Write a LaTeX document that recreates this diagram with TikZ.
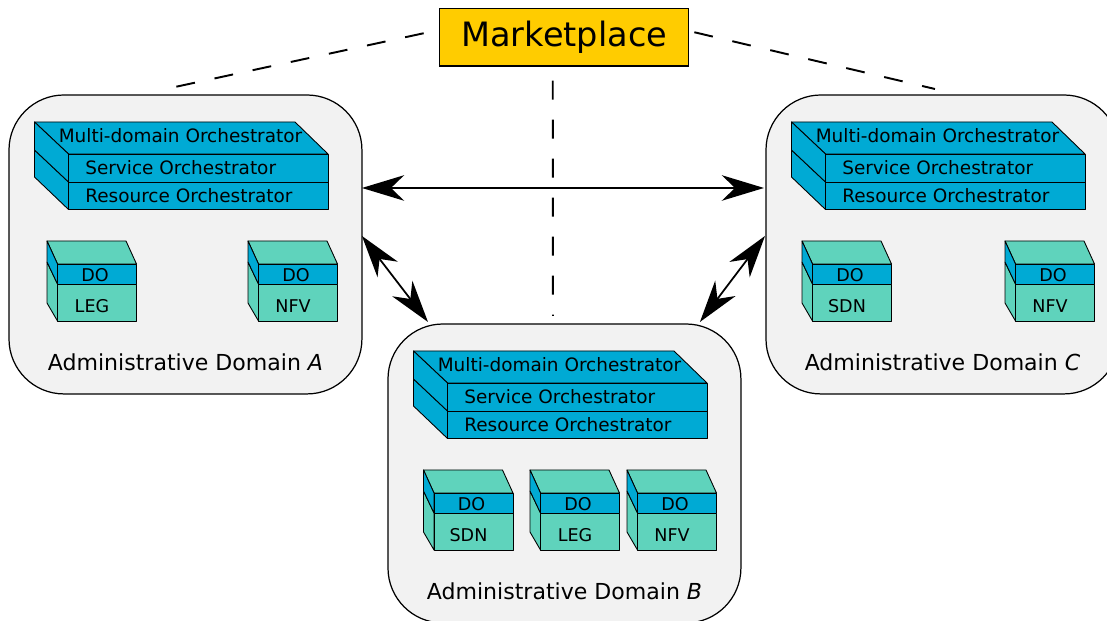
\documentclass[tikz,border=0pt]{standalone}
\usepackage{fontspec}
\setmainfont{DejaVu Sans}
\usetikzlibrary{arrows.meta}

\definecolor{doblue}{HTML}{00AAD4}
\definecolor{doteal}{HTML}{5FD3BC}
\definecolor{mktyellow}{HTML}{FFCC00}
\definecolor{domgray}{HTML}{F2F2F2}

\tikzset{
  domainbox/.style={draw,fill=domgray,line width=0.7pt,rounded corners=1.1cm,minimum width=7.06cm,minimum height=5.98cm,inner sep=0pt,outer sep=0pt,anchor=north west},
  facet/.style={draw,line width=0.5pt,line join=round},
  orchtext/.style={font=\fontsize{10.5}{13}\selectfont,inner sep=0pt,anchor=base west},
  dotext/.style={font=\fontsize{10}{12}\selectfont,inner sep=0pt,anchor=base},
  domtext/.style={font=\fontsize{12.55}{15}\selectfont,inner sep=0pt,anchor=base},
  linkarrow/.style={{Stealth[length=24pt,width=14.5pt,inset=7.5pt]}-{Stealth[length=24pt,width=14.5pt,inset=7.5pt]}},
  dashline/.style={line width=1.1pt,dash pattern=on 10.8pt off 11.4pt}
}

% orchestrator stack, drawn at the origin of a domain
\newcommand{\orchstack}[1]{
  \draw[facet,fill=doblue] (25.5,55) -- (59.5,87) -- (59.5,114.5) -- (25.5,82) -- cycle;
  \draw[facet,fill=doblue] (25.5,27) -- (286,27) -- (319,59) -- (59.5,59) -- cycle;
  \draw[facet,fill=doblue] (25.5,27) -- (59.5,59) -- (59.5,87) -- (25.5,55) -- cycle;
  \draw[facet,fill=doblue] (59.5,59) rectangle (319,87);
  \draw[facet,fill=doblue] (59.5,87) rectangle (319,114.5);
  \node[orchtext,anchor=base] (mdo#1) at (171.5,48) {Multi-domain Orchestrator};
  \node[orchtext] (so#1) at (76,80) {Service Orchestrator};
  \node[orchtext] (ro#1) at (76,108) {Resource Orchestrator};
}

% domain orchestrator box: name, x, y, label
\newcommand{\dobox}[4]{
  \begin{scope}[shift={(#2,#3)}]
    \draw[facet,fill=doteal] (0,0) -- (79,0) -- (89.5,23) -- (10.5,23) -- cycle;
    \draw[facet,fill=doteal] (0,21) -- (10.5,43) -- (10.5,80) -- (0,62) -- cycle;
    \draw[facet,fill=doblue] (0,0) -- (10.5,23) -- (10.5,43) -- (0,21) -- cycle;
    \draw[facet,fill=doblue] (10.5,23) rectangle (89.5,43);
    \draw[facet,fill=doteal] (10.5,43) rectangle (89.5,80);
    \node[dotext] (do#1) at (48,41) {DO};
    \node[dotext] (lab#1) at (45,72) {#4};
  \end{scope}
}

\begin{document}
\begin{tikzpicture}[x=0.02cm,y=-0.02cm]
  \clip (0,0) rectangle (1107,621);

  % domains
  \node[domainbox] (domA) at (9,95) {};
  \node[domainbox] (domB) at (388,324) {};
  \node[domainbox] (domC) at (766,95) {};

  \begin{scope}[shift={(9,95)}]
    \orchstack{A}
    \node[domtext] (nameA) at (176.5,275.5) {Administrative Domain \textit{A}};
  \end{scope}
  \begin{scope}[shift={(388,324)}]
    \orchstack{B}
    \node[domtext] (nameB) at (176.5,275.5) {Administrative Domain \textit{B}};
  \end{scope}
  \begin{scope}[shift={(766,95)}]
    \orchstack{C}
    \node[domtext] (nameC) at (176.5,275.5) {Administrative Domain \textit{C}};
  \end{scope}

  \dobox{al}{47}{241}{LEG}
  \dobox{an}{248}{241}{NFV}
  \dobox{bs}{423.5}{470}{SDN}
  \dobox{bl}{530}{470}{LEG}
  \dobox{bn}{627}{470}{NFV}
  \dobox{cs}{802}{241}{SDN}
  \dobox{cn}{1005}{241}{NFV}

  % marketplace
  \node[draw,fill=mktyellow,line width=0.7pt,minimum width=4.98cm,minimum height=1.15cm,inner sep=0pt,font=\fontsize{19.1}{23}\selectfont] (mkt) at (564.25,37.25) {Marketplace};

  \draw[dashline] ([xshift=-0.31cm,yshift=0.08cm]mkt.west) -- ([xshift=-0.21cm,yshift=0.16cm]domA.north);
  \draw[dashline] ([xshift=0.1cm,yshift=0.1cm]mkt.east) -- ([xshift=-0.15cm,yshift=0.12cm]domC.north);
  \draw[dashline] ([xshift=-0.23cm,yshift=-0.28cm]mkt.south) -- ([xshift=-0.23cm,yshift=0.16cm]domB.north);

  % links between domains
  \draw[linkarrow,line width=1.5pt] ([yshift=1.13cm]domA.east) -- ([xshift=-0.04cm,yshift=1.13cm]domC.west);
  \draw[linkarrow,line width=1pt] ([yshift=0.17cm]domA.east) -- ([xshift=-2.73cm,yshift=0.04cm]domB.north);
  \draw[linkarrow,line width=1pt] ([xshift=-0.02cm,yshift=0.17cm]domC.west) -- ([xshift=2.71cm,yshift=0.04cm]domB.north);
\end{tikzpicture}
\end{document}
